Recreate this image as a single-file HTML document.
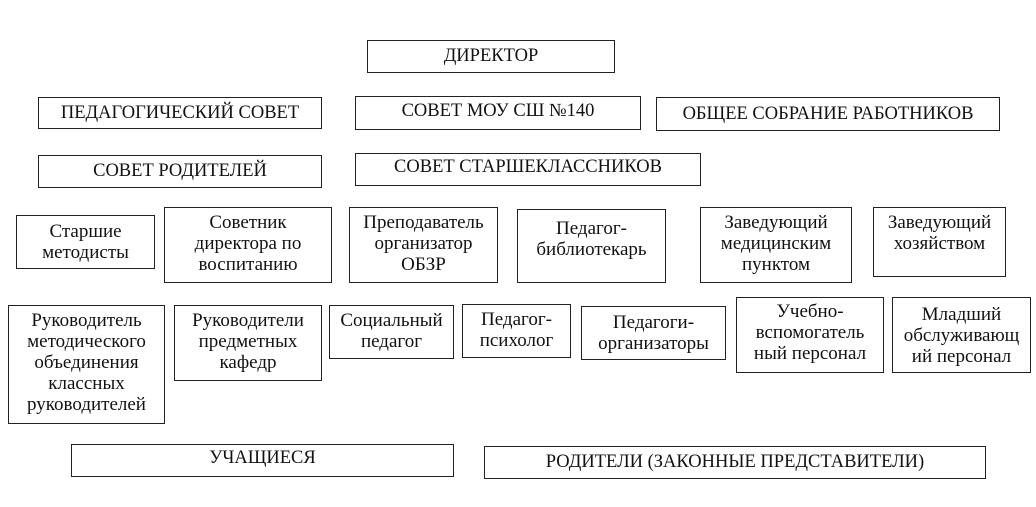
<!DOCTYPE html>
<html><head><meta charset="utf-8"><style>
body{margin:0;width:1036px;height:507px;background:#fff;position:relative;overflow:hidden;font-family:"Liberation Serif",serif;color:#111}
.b{position:absolute;border:1.3px solid #222;box-sizing:border-box;text-align:center;font-size:19px;line-height:21px;display:flex;flex-direction:column;justify-content:flex-start;padding-top:4px;white-space:nowrap;align-items:center}
.c{justify-content:center;padding-top:0}
.u{font-size:18.5px}
</style></head><body>
<div class="b c u" style="left:367px;top:40px;width:248px;height:33px">ДИРЕКТОР</div>
<div class="b c u" style="left:38px;top:97px;width:284px;height:32px">ПЕДАГОГИЧЕСКИЙ СОВЕТ</div>
<div class="b c u" style="left:355px;top:96px;width:286px;height:34px;padding-bottom:4px">СОВЕТ МОУ СШ №140</div>
<div class="b c u" style="left:656px;top:97px;width:344px;height:34px">ОБЩЕЕ СОБРАНИЕ РАБОТНИКОВ</div>
<div class="b c u" style="left:38px;top:155px;width:284px;height:33px">СОВЕТ РОДИТЕЛЕЙ</div>
<div class="b c u" style="left:355px;top:153px;width:346px;height:33px;padding-bottom:4px">СОВЕТ СТАРШЕКЛАССНИКОВ</div>

<div class="b c" style="left:16px;top:215px;width:139px;height:54px">Старшие<br>методисты</div>
<div class="b" style="left:164px;top:207px;width:168px;height:76px">Советник<br>директора по<br>воспитанию</div>
<div class="b" style="left:349px;top:207px;width:149px;height:76px">Преподаватель<br>организатор<br>ОБЗР</div>
<div class="b c" style="left:517px;top:209px;width:149px;height:74px;padding-bottom:14px">Педагог-<br>библиотекарь</div>
<div class="b" style="left:700px;top:207px;width:152px;height:76px">Заведующий<br>медицинским<br>пунктом</div>
<div class="b" style="left:873px;top:207px;width:133px;height:70px">Заведующий<br>хозяйством</div>

<div class="b" style="left:8px;top:305px;width:157px;height:119px">Руководитель<br>методического<br>объединения<br>классных<br>руководителей</div>
<div class="b" style="left:174px;top:305px;width:148px;height:76px">Руководители<br>предметных<br>кафедр</div>
<div class="b" style="left:329px;top:305px;width:125px;height:54px">Социальный<br>педагог</div>
<div class="b" style="left:462px;top:304px;width:109px;height:54px">Педагог-<br>психолог</div>
<div class="b c" style="left:581px;top:306px;width:145px;height:54px">Педагоги-<br>организаторы</div>
<div class="b" style="left:736px;top:297px;width:148px;height:76px;padding-top:3px">Учебно-<br>вспомогатель<br>ный персонал</div>
<div class="b" style="left:892px;top:297px;width:139px;height:76px;padding-top:6px">Младший<br>обслуживающ<br>ий персонал</div>

<div class="b c u" style="left:71px;top:444px;width:383px;height:33px;padding-bottom:4px">УЧАЩИЕСЯ</div>
<div class="b c u" style="left:484px;top:446px;width:502px;height:33px">РОДИТЕЛИ (ЗАКОННЫЕ ПРЕДСТАВИТЕЛИ)</div>
</body></html>
